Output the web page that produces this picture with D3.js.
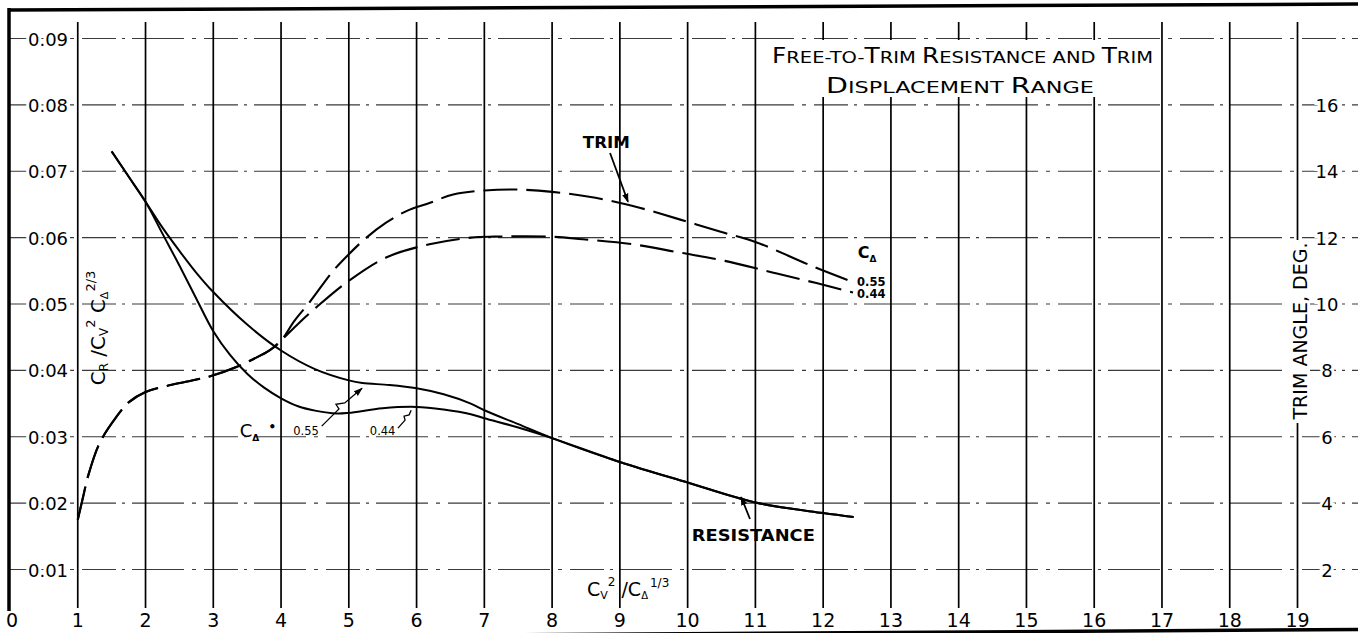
<!DOCTYPE html>
<html><head><meta charset="utf-8">
<script src="https://cdn.jsdelivr.net/npm/d3@7"></script>
<style>
body{margin:0;background:#fff}
svg{display:block}
text{font-family:"DejaVu Sans",sans-serif;fill:#000}
</style>
</head><body><svg id="c" width="1358" height="633"></svg>
<script>
// ---------- data ----------
const xTicks = d3.range(0, 20);
const leftTicks = [0.01, 0.02, 0.03, 0.04, 0.05, 0.06, 0.07, 0.08, 0.09];
const rightTicks = [2, 4, 6, 8, 10, 12, 14, 16];

// resistance C_R / C_V^2 C_Δ^(2/3) vs C_V^2 / C_Δ^(1/3)
const res055 = [[1.5,0.0730],[1.75,0.0692],[2.0,0.0654],[2.25,0.0615],[2.5,0.0580],[2.75,0.0547],[3.0,0.0518],[3.5,0.0469],[4.0,0.0430],[4.5,0.0402],[5.0,0.0385],[5.2,0.0381],[5.6,0.0378],[6.0,0.0373],[6.4,0.0364],[6.8,0.0350],[7.0,0.0340],[7.5,0.0319],[8.0,0.0298],[9.0,0.0262],[10.0,0.0231],[11.0,0.0201],[12.0,0.0185],[12.45,0.0179]];
const res044 = [[1.5,0.0730],[1.75,0.0692],[2.0,0.0654],[2.25,0.0606],[2.5,0.0558],[2.75,0.0508],[3.0,0.0459],[3.25,0.0423],[3.5,0.0395],[3.75,0.0374],[4.0,0.0358],[4.25,0.0346],[4.52,0.0339],[4.82,0.0335],[5.0,0.0336],[5.5,0.0343],[6.0,0.0345],[6.4,0.0341],[6.8,0.0334],[7.0,0.0328],[7.5,0.0314],[8.0,0.0298],[9.0,0.0262],[10.0,0.0231],[11.0,0.0201],[12.0,0.0185],[12.45,0.0179]];

// trim angle (deg)
const trim055 = [[1.0,3.5],[1.08,4.2],[1.15,4.8],[1.32,5.8],[1.57,6.6],[1.76,7.05],[2.0,7.35],[2.35,7.55],[2.7,7.7],[3.0,7.85],[3.34,8.1],[3.6,8.35],[3.83,8.6],[4.0,8.9],[4.2,9.5],[4.42,10.05],[4.77,11.0],[5.0,11.5],[5.26,12.0],[5.55,12.45],[5.85,12.8],[6.2,13.05],[6.54,13.3],[7.0,13.42],[7.45,13.45],[8.0,13.38],[8.64,13.2],[9.29,12.9],[9.88,12.55],[10.5,12.17],[11.0,11.87],[11.83,11.15],[12.47,10.64]];
const trim044 = [[1.0,3.5],[1.08,4.2],[1.15,4.8],[1.32,5.8],[1.57,6.6],[1.76,7.05],[2.0,7.35],[2.35,7.55],[2.7,7.7],[3.0,7.85],[3.34,8.1],[3.6,8.35],[3.83,8.6],[4.0,8.9],[4.25,9.4],[4.52,9.9],[5.0,10.7],[5.55,11.4],[6.19,11.8],[6.8,12.0],[7.15,12.03],[7.96,12.03],[8.45,11.95],[9.19,11.8],[9.88,11.55],[10.55,11.3],[11.25,10.95],[11.9,10.63],[12.44,10.35]];

// annotation anchors (data units: x, left-axis value)
const trimArrow = [[8.855,0.07275],[9.12,0.0654]];
const resArrow = [[10.92,0.01761],[10.79,0.02093]];
const lead055 = [[4.60,0.0316],[4.855,0.0342],[4.81,0.0349],[4.94,0.0351],[5.195,0.0373]];
const lead044 = [[5.725,0.0313],[5.83,0.0325],[5.815,0.0331],[5.89,0.0333],[5.92,0.0340]];

// ---------- setup ----------
const W = 1358, H = 633;
const svg = d3.select('#c');
const x = d3.scaleLinear().domain([0, 19]).range([10, 1297.5]);
const yL = d3.scaleLinear().domain([0, 0.09]).range([635.9, 38.5]);
const yR = d3.scaleLinear().domain([0, 18]).range([635.9, 38.5]);

const defs = svg.append('defs');
defs.append('marker').attr('id','arr').attr('viewBox','0 0 10 10').attr('refX',9).attr('refY',5)
  .attr('markerWidth',9).attr('markerHeight',9).attr('markerUnits','userSpaceOnUse').attr('orient','auto')
  .append('path').attr('d','M0,1.5 L10,5 L0,8.5 Z').attr('fill','#000');

// ---------- grid ----------
svg.append('g').selectAll('line').data(leftTicks).join('line')
  .attr('x1', x(0)).attr('x2', W).attr('y1', d => yL(d)).attr('y2', d => yL(d))
  .attr('stroke', '#3a3a3a').attr('stroke-width', 1.1)
  .attr('stroke-dasharray', '52,8,4,8,34,6,3,7');

svg.append('g').selectAll('line').data(xTicks.filter(d => d > 0)).join('line')
  .attr('x1', d => x(d)).attr('x2', d => x(d)).attr('y1', 22).attr('y2', 608)
  .attr('stroke', '#000').attr('stroke-width', 1.7);

// frame
svg.append('line').attr('x1', x(0) - 1).attr('x2', x(0) - 1).attr('y1', 8).attr('y2', 611)
  .attr('stroke', '#000').attr('stroke-width', 3.5);
svg.append('line').attr('x1', x(0) - 2).attr('x2', W).attr('y1', 10).attr('y2', 4)
  .attr('stroke', '#000').attr('stroke-width', 3.5);
svg.append('line').attr('x1', x(0) - 2).attr('x2', W).attr('y1', 638).attr('y2', 629.5)
  .attr('stroke', '#000').attr('stroke-width', 3.5);

// title background & right-title background
svg.append('rect').attr('x', 762).attr('y', 40).attr('width', 394).attr('height', 57).attr('fill', '#fff');
svg.append('rect').attr('x', 1288).attr('y', 240).attr('width', 22).attr('height', 183).attr('fill', '#fff');

// ---------- tick labels ----------
const halo = s => s.attr('stroke', '#fff').attr('stroke-width', 6).attr('paint-order', 'stroke');

halo(svg.append('g').selectAll('text').data(leftTicks).join('text')
  .attr('x', 48).attr('y', d => yL(d) + 7).attr('text-anchor', 'middle')
  .attr('font-size', 18).text(d3.format('.2f')));

halo(svg.append('g').selectAll('text').data(rightTicks).join('text')
  .attr('x', 1327).attr('y', d => yR(d) + 7).attr('text-anchor', 'middle')
  .attr('font-size', 18).text(d => d));

svg.append('g').selectAll('text').data(xTicks).join('text')
  .attr('x', d => x(d) + (d === 0 ? 2 : 0)).attr('y', 627).attr('text-anchor', 'middle')
  .attr('font-size', 19).text(d => d);

// ---------- curves ----------
const lineL = d3.line().x(d => x(d[0])).y(d => yL(d[1])).curve(d3.curveCatmullRom.alpha(0.5));
const lineR = d3.line().x(d => x(d[0])).y(d => yR(d[1])).curve(d3.curveCatmullRom.alpha(0.5));

[res055, res044].forEach(s => svg.append('path').attr('d', lineL(s))
  .attr('fill', 'none').attr('stroke', '#000').attr('stroke-width', 2));
[trim055, trim044].forEach(s => svg.append('path').attr('d', lineR(s))
  .attr('fill', 'none').attr('stroke', '#000').attr('stroke-width', 2.1)
  .attr('stroke-dasharray', '34,9'));

// ---------- annotations ----------
const pl = d3.line().x(d => x(d[0])).y(d => yL(d[1]));
svg.append('path').attr('d', pl(trimArrow)).attr('stroke', '#000').attr('stroke-width', 1.8).attr('fill','none').attr('marker-end', 'url(#arr)');
svg.append('path').attr('d', pl(resArrow)).attr('stroke', '#000').attr('stroke-width', 1.8).attr('fill','none').attr('marker-end', 'url(#arr)');
svg.append('path').attr('d', pl(lead055)).attr('stroke', '#000').attr('stroke-width', 1.3).attr('fill','none').attr('marker-end', 'url(#arr)');
svg.append('path').attr('d', pl(lead044)).attr('stroke', '#000').attr('stroke-width', 1.3).attr('fill','none');

svg.append('text').attr('x', x(8.8)).attr('y', yL(0.0735)).attr('text-anchor', 'middle')
  .attr('font-size', 16).attr('font-weight', 'bold').attr('textLength', 47).attr('lengthAdjust','spacingAndGlyphs').text('TRIM');
svg.append('text').attr('x', x(10.97)).attr('y', yL(0.0143)).attr('text-anchor', 'middle')
  .attr('font-size', 16).attr('font-weight', 'bold').attr('textLength', 123).attr('lengthAdjust','spacingAndGlyphs').text('RESISTANCE');

// right C_Δ legend
const cd = svg.append('text').attr('x', x(12.51)).attr('y', yL(0.0570)).attr('font-size', 16).attr('font-weight','bold');
cd.append('tspan').text('C');
cd.append('tspan').attr('font-size', 9).attr('dy', 4).text('Δ');
svg.append('text').attr('x', x(12.5)).attr('y', yL(0.0527)).attr('font-size', 11.5).attr('font-weight','bold').text('0.55');
svg.append('text').attr('x', x(12.5)).attr('y', yL(0.0509)).attr('font-size', 11.5).attr('font-weight','bold').text('0.44');

// lower-left C_Δ = labels
const cd2 = svg.append('text').attr('x', x(3.39)).attr('y', yL(0.0300)).attr('font-size', 18);
cd2.append('tspan').text('C');
cd2.append('tspan').attr('font-size', 9).attr('dy', 4).attr('font-weight','bold').text('Δ');
svg.append('text').attr('x', x(3.87)).attr('y', yL(0.0308)).attr('font-size', 12).attr('font-weight','bold').attr('text-anchor','middle').text('•');
svg.append('text').attr('x', x(4.18)).attr('y', yL(0.0303)).attr('font-size', 11.5).text('0.55');
svg.append('text').attr('x', x(5.31)).attr('y', yL(0.0303)).attr('font-size', 11.5).text('0.44');

// chart title (small caps)
function smallCaps(t, parts, big, small) {
  parts.forEach(p => t.append('tspan').attr('font-size', p[1] ? big : small).text(p[0]));
}
const t1 = svg.append('text').attr('x', 772).attr('y', 63).attr('textLength', 381).attr('lengthAdjust', 'spacingAndGlyphs');
smallCaps(t1, [['F',1],['REE-TO-',0],['T',1],['RIM ',0],['R',1],['ESISTANCE AND ',0],['T',1],['RIM',0]], 21, 16.5);
const t2 = svg.append('text').attr('x', 826).attr('y', 93).attr('textLength', 268).attr('lengthAdjust', 'spacingAndGlyphs');
smallCaps(t2, [['D',1],['ISPLACEMENT ',0],['R',1],['ANGE',0]], 21, 16.5);

// x-axis title
const xt = svg.append('text').attr('x', 587).attr('y', 596).attr('font-size', 19);
xt.append('tspan').text('C');
xt.append('tspan').attr('font-size', 11).attr('dy', 3).text('V');
xt.append('tspan').attr('font-size', 12).attr('dy', -13).text('2');
xt.append('tspan').attr('dy', 10).attr('dx', 6).text('/');
xt.append('tspan').text('C');
xt.append('tspan').attr('font-size', 10).attr('dy', 3).text('Δ');
xt.append('tspan').attr('font-size', 12).attr('dy', -12).attr('dx', 2).text('1/3');

// left y-axis title (rotated)
const yt = svg.append('text').attr('transform', 'translate(105,328) rotate(-90)').attr('text-anchor', 'middle').attr('font-size', 20);
yt.append('tspan').text('C');
yt.append('tspan').attr('font-size', 12).attr('dy', 3).text('R');
yt.append('tspan').attr('dy', -3).text(' /C');
yt.append('tspan').attr('font-size', 12).attr('dy', 3).text('V');
yt.append('tspan').attr('font-size', 13).attr('dy', -13).text('2');
yt.append('tspan').attr('dy', 10).text(' C');
yt.append('tspan').attr('font-size', 11).attr('dy', 3).text('Δ');
yt.append('tspan').attr('font-size', 13).attr('dy', -13).text('2/3');

// right y-axis title (rotated)
svg.append('text').attr('transform', 'translate(1307,331) rotate(-90)').attr('text-anchor', 'middle')
  .attr('font-size', 19).attr('textLength', 177).attr('lengthAdjust','spacingAndGlyphs').text('TRIM ANGLE, DEG.');
</script>
</body></html>
